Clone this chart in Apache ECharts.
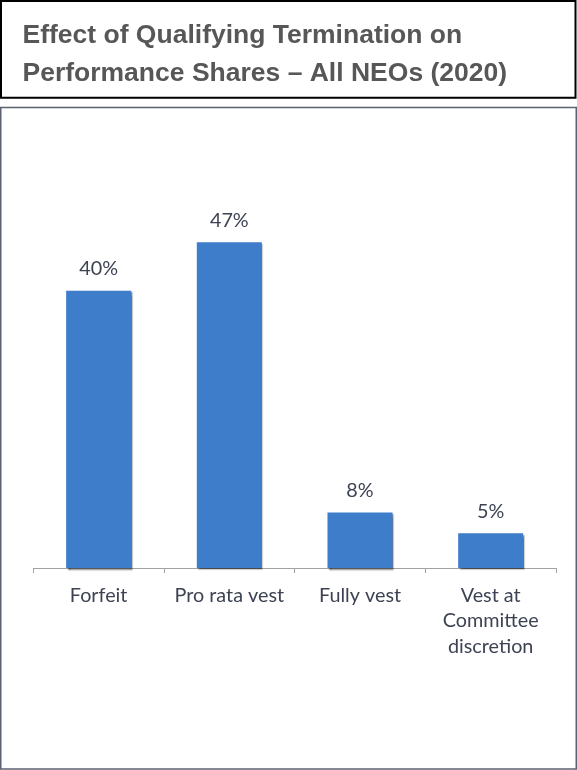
<!DOCTYPE html>
<html>
<head>
<meta charset="utf-8">
<script src="https://cdn.jsdelivr.net/npm/echarts@6/dist/echarts.min.js"></script>
<style>
  html, body { margin: 0; padding: 0; background: #ffffff; }
  #chart { width: 577px; height: 770px; }
</style>
</head>
<body>
<div id="chart"></div>
<script>
// Outcome categories and share of NEOs (percent)
const categories = ['Forfeit', 'Pro rata vest', 'Fully vest', 'Vest at\nCommittee\ndiscretion'];
const shares = [40, 47, 8, 5];

const titleLines = ['Effect of Qualifying Termination on', 'Performance Shares \u2013 All NEOs (2020)'];

const chart = echarts.init(document.getElementById('chart'), null, { renderer: 'canvas' });

chart.setOption({
  animation: false,
  backgroundColor: '#ffffff',
  title: {
    text: titleLines.join('\n'),
    left: 22.5,
    top: 16.5,
    padding: 0,
    textStyle: {
      fontFamily: '"Liberation Sans", Arial, sans-serif',
      fontWeight: 'bold',
      fontSize: 26.5,
      lineHeight: 38,
      color: '#575757'
    }
  },
  graphic: [
    {
      type: 'rect',
      shape: { x: 1, y: 1, width: 574.5, height: 96.8 },
      style: { fill: 'none', stroke: '#000000', lineWidth: 2 },
      silent: true
    },
    {
      type: 'rect',
      shape: { x: 0.75, y: 107.5, width: 575.5, height: 661.5 },
      style: { fill: 'none', stroke: '#5d6272', lineWidth: 1.5 },
      silent: true
    }
  ],
  grid: {
    left: 33.3,
    right: 21,
    top: 221.5,
    bottom: 202,
    containLabel: false
  },
  xAxis: {
    type: 'category',
    data: categories,
    boundaryGap: true,
    axisLine: { show: true, lineStyle: { color: '#a3a3a3', width: 1 } },
    axisTick: { show: true, length: 5, lineStyle: { color: '#a3a3a3', width: 1 } },
    axisLabel: {
      interval: 0,
      margin: 14.5,
      fontFamily: 'Lato, "Open Sans", sans-serif',
      fontSize: 19.8,
      lineHeight: 25.7,
      color: '#3d4353',
      align: 'center'
    },
    splitLine: { show: false }
  },
  yAxis: {
    type: 'value',
    min: 0,
    max: 50,
    show: false,
    splitLine: { show: false }
  },
  series: [
    {
      type: 'bar',
      data: shares,
      barWidth: 65,
      itemStyle: {
        color: '#3e7dc9',
        shadowColor: 'rgba(0, 0, 0, 0.55)',
        shadowBlur: 1.5,
        shadowOffsetX: 1.5,
        shadowOffsetY: 1.5
      },
      label: {
        show: true,
        position: 'top',
        distance: 12,
        formatter: (p) => p.value + '%',
        fontFamily: 'Lato, "Open Sans", sans-serif',
        fontSize: 19.8,
        color: '#3d4353'
      }
    }
  ]
});
</script>
</body>
</html>
